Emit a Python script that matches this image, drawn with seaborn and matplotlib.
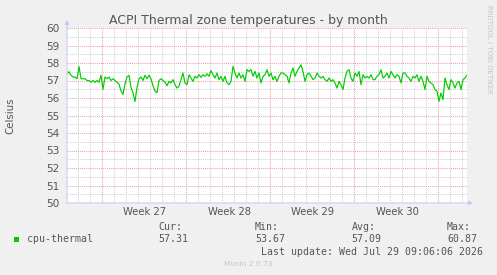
import matplotlib
matplotlib.use("Agg")
import matplotlib.pyplot as plt
import matplotlib.dates as mdates
from matplotlib.ticker import MultipleLocator, NullFormatter
from matplotlib.transforms import blended_transform_factory
import numpy as np
import pandas as pd
import seaborn as sns

# cpu-thermal readings, one every 4 hours
temps = [
    57.4, 57.5, 57.3, 57.2, 57.2, 57.1, 57.8, 57.1, 57.1, 57.1,
    57.0, 57.0, 56.9, 57.0, 56.9, 57.0, 56.9, 57.3, 56.5, 57.2,
    57.1, 57.2, 57.0, 57.1, 57.0, 56.9, 56.8, 56.4, 56.2, 56.8,
    57.2, 57.3, 56.6, 56.3, 55.8, 56.6, 57.1, 57.2, 57.0, 57.3,
    57.1, 57.3, 57.1, 56.7, 56.4, 56.3, 57.0, 57.1, 57.0, 56.9,
    56.7,
    56.95, 56.86, 57.05, 56.76, 56.57, 56.67, 57.05, 57.43, 56.86, 56.76,
    57.33, 57.14, 56.95, 57.24, 57.14, 57.33, 57.18, 57.33, 57.24, 57.38,
    57.24, 57.57, 57.33, 57.14, 57.43, 57.05, 57.24, 56.95, 57.24, 56.86,
    56.76, 56.95, 57.81, 57.43, 57.14, 57.43, 57.14, 57.33, 56.95, 57.62,
    57.52, 57.62, 57.24, 57.52, 57.14, 57.43, 56.86, 57.24, 57.33, 57.62,
    57.24, 57.43,
    57.05, 57.24, 56.95, 57.24, 57.43, 57.43, 57.33, 57.24, 56.86, 57.43,
    57.71, 57.24, 57.52, 57.71, 57.90, 57.52, 56.95, 57.33, 57.43, 57.24,
    57.05, 57.14, 57.43, 57.24, 57.14, 57.24, 57.05, 56.95, 57.14, 56.95,
    57.05, 56.86, 56.57, 56.95, 56.76, 56.48, 57.14, 57.52, 57.62, 57.14,
    56.95, 57.43, 57.24, 57.52, 56.76, 57.33, 57.14, 57.24, 57.14, 57.33,
    57.05,
    57.05, 57.24, 57.33, 57.62, 57.14, 57.24, 57.43, 57.14, 57.52, 57.33,
    57.14, 57.33, 57.24, 56.86, 57.43, 57.43, 57.24, 57.14, 56.95, 57.24,
    57.14, 57.33, 56.95, 57.24, 56.95, 56.48, 57.24, 56.95, 56.86, 56.76,
    56.48, 56.38, 55.81, 56.29, 55.90, 57.14, 56.76, 56.48, 57.05, 56.86,
    56.57, 56.86, 56.95, 56.48, 57.05, 57.14, 57.31,
]
start = "2026-06-26 03:00"
end = "2026-07-29 11:00"

legend_name = "cpu-thermal"
stat_names = ["Cur:", "Min:", "Avg:", "Max:"]
stat_values = ["57.31", "53.67", "57.09", "60.87"]

df = pd.DataFrame({
    "time": pd.date_range(start, periods=len(temps), freq="4h"),
    "temp": temps,
})

sns.set_style("white")
plt.rcParams["font.family"] = ["DejaVu Sans"]

W, H = 497, 275
fig = plt.figure(figsize=(W / 100, H / 100), dpi=100, facecolor="#f0f0f0")
ax = fig.add_axes([67 / W, 72 / H, 400 / W, 175 / H])
ax.set_facecolor("white")

sns.lineplot(data=df, x="time", y="temp", ax=ax, color="#00cc00", linewidth=0.85)

ax.set_xlim(pd.Timestamp(start), pd.Timestamp(end))
ax.set_ylim(50, 60)
ax.set_xlabel("")
ax.set_ylabel("")

ax.xaxis.set_major_locator(mdates.WeekdayLocator(byweekday=mdates.MO))
ax.xaxis.set_minor_locator(mdates.DayLocator())
ax.xaxis.set_major_formatter(NullFormatter())
ax.yaxis.set_major_locator(MultipleLocator(1))
ax.yaxis.set_minor_locator(MultipleLocator(0.5))

ax.set_axisbelow(True)
ax.grid(which="major", color="#eaa4a4", linestyle=(0, (1, 1)), linewidth=0.75)
ax.grid(which="minor", color="#d2d2d2", linestyle=(0, (1, 1)), linewidth=0.75)

ax.tick_params(axis="x", which="major", length=3, color="#e0a0a0", width=0.75)
ax.tick_params(axis="x", which="minor", length=2, color="#cccccc", width=0.75)
ax.tick_params(axis="y", which="both", length=0, pad=5.5,
               labelsize=7.6, labelcolor="#555555")

for s in ax.spines.values():
    s.set_visible(False)

axis_col = "#c8c8f4"
ax.annotate("", xy=(0, 1 + 8 / 175), xytext=(0, 0), xycoords="axes fraction",
            arrowprops=dict(arrowstyle="-|>", color=axis_col, lw=0.75,
                            mutation_scale=6, shrinkA=0, shrinkB=0))
ax.annotate("", xy=(1 + 6 / 400, 0), xytext=(0, 0), xycoords="axes fraction",
            arrowprops=dict(arrowstyle="-|>", color=axis_col, lw=0.75,
                            mutation_scale=6, shrinkA=0, shrinkB=0))

# week labels centred in each week
trans = blended_transform_factory(ax.transData, ax.transAxes)
lo, hi = mdates.date2num(pd.Timestamp(start)), mdates.date2num(pd.Timestamp(end))
for monday in pd.date_range(start, end, freq="W-MON"):
    mid = mdates.date2num(monday + pd.Timedelta(hours=84))
    if lo < mid < hi:
        ax.text(mid, -9 / 175, f"Week {monday.isocalendar().week}", transform=trans,
                ha="center", va="center", fontsize=7.2, color="#555555")

def px(x, y):
    return x / W, 1 - y / H

fig.text(*px(248, 24), "ACPI Thermal zone temperatures - by month",
         ha="center", va="baseline", fontsize=9, color="#555555")
fig.text(*px(10, 115.5), "Celsius", rotation=90, ha="center", va="center",
         fontsize=7.4, color="#555555")
fig.text(*px(489, 5), "RRDTOOL / TOBI OETIKER", rotation=270, ha="center",
         va="top", fontsize=5.0, color="#c4c4c4")

mono = dict(family="DejaVu Sans Mono", fontsize=7.1, color="#555555")
fig.patches.append(plt.Rectangle(px(14, 242), 5 / W, 5 / H, transform=fig.transFigure,
                                 facecolor="#00cc00", edgecolor="none"))
fig.text(*px(27, 239.3), legend_name, ha="left", va="center", **mono)
for x0, name, val in zip([158, 255, 351.5, 447], stat_names, stat_values):
    fig.text(*px(x0, 227.3), name, ha="left", va="center", **mono)
    fig.text(*px(x0, 239.3), val, ha="left", va="center", **mono)
fig.text(*px(483, 251.7), "Last update: Wed Jul 29 09:06:06 2026",
         ha="right", va="center", **mono)
fig.text(*px(248, 264), "Munin 2.0.73", ha="center", va="center",
         fontsize=5.3, color="#c4c4c4")

fig.savefig("out.png", dpi=100, facecolor=fig.get_facecolor())
